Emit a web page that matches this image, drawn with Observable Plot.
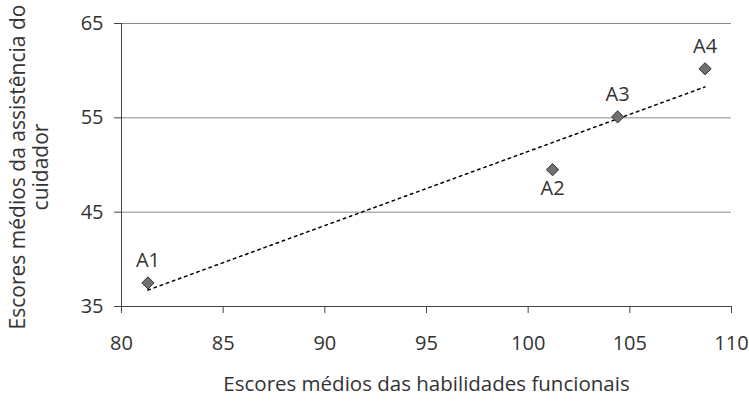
<!DOCTYPE html>
<html><head><meta charset="utf-8">
<script src="https://cdn.jsdelivr.net/npm/d3@7"></script>
<script src="https://cdn.jsdelivr.net/npm/@observablehq/plot@0.6"></script>
<style>body{margin:0;background:#fff}</style>
</head><body><div id="chart"></div>
<script>
const labels = ["A1", "A2", "A3", "A4"];
const habilidades = [81.3, 101.2, 104.4, 108.7];
const assistencia = [37.5, 49.5, 55.1, 60.2];
const labelPos = ["top", "bottom", "top", "top"];
const xTicks = [80, 85, 90, 95, 100, 105, 110];
const yTicks = [35, 45, 55, 65];
const gridValues = [45, 55, 65];
const xTitle = "Escores médios das habilidades funcionais";
const yTitle = "Escores médios da assistência do\ncuidador";

const data = labels.map((l, i) => ({label: l, x: habilidades[i], y: assistencia[i], pos: labelPos[i]}));

const FS = 20;
const chart = Plot.plot({
  width: 749,
  height: 403,
  marginLeft: 121,
  marginRight: 18,
  marginTop: 23,
  marginBottom: 97,
  style: {fontFamily: "'Open Sans', sans-serif", fontSize: FS + "px", color: "#333", background: "#fff"},
  x: {domain: [80, 110]},
  y: {domain: [35, 65]},
  marks: [
    Plot.ruleY(gridValues, {stroke: "#8a8a8a", strokeWidth: 1}),
    Plot.axisX({ticks: xTicks, tickSize: 7, tickPadding: 22, label: null, stroke: "#444", fill: "#333", fontSize: FS}),
    Plot.axisY({ticks: yTicks, tickSize: 7, tickPadding: 11, label: null, stroke: "#444", fill: "#333", fontSize: FS}),
    Plot.ruleY([35], {stroke: "#444"}),
    Plot.ruleX([80], {stroke: "#444"}),
    Plot.linearRegressionY(data, {x: "x", y: "y", stroke: "#000", strokeWidth: 1.5, strokeDasharray: "2.5,4", ci: 0}),
    Plot.dot(data, {x: "x", y: "y", symbol: "diamond2", r: 5.5, fill: "#707070", stroke: "#333", strokeWidth: 1}),
    Plot.text(data.filter(d => d.pos === "top"), {x: "x", y: "y", text: "label", dy: -22, fill: "#333", fontSize: FS}),
    Plot.text(data.filter(d => d.pos === "bottom"), {x: "x", y: "y", text: "label", dy: 19, fill: "#333", fontSize: FS}),
    Plot.text([xTitle], {frameAnchor: "bottom", dy: 84, fill: "#333", fontSize: FS + 0.5}),
    Plot.text([yTitle], {frameAnchor: "left", textAnchor: "middle", dx: -92, dy: 2, rotate: -90, lineHeight: 1.1, fill: "#333", fontSize: FS + 1})
  ]
});
document.getElementById("chart").appendChild(chart);
</script>
</body></html>
